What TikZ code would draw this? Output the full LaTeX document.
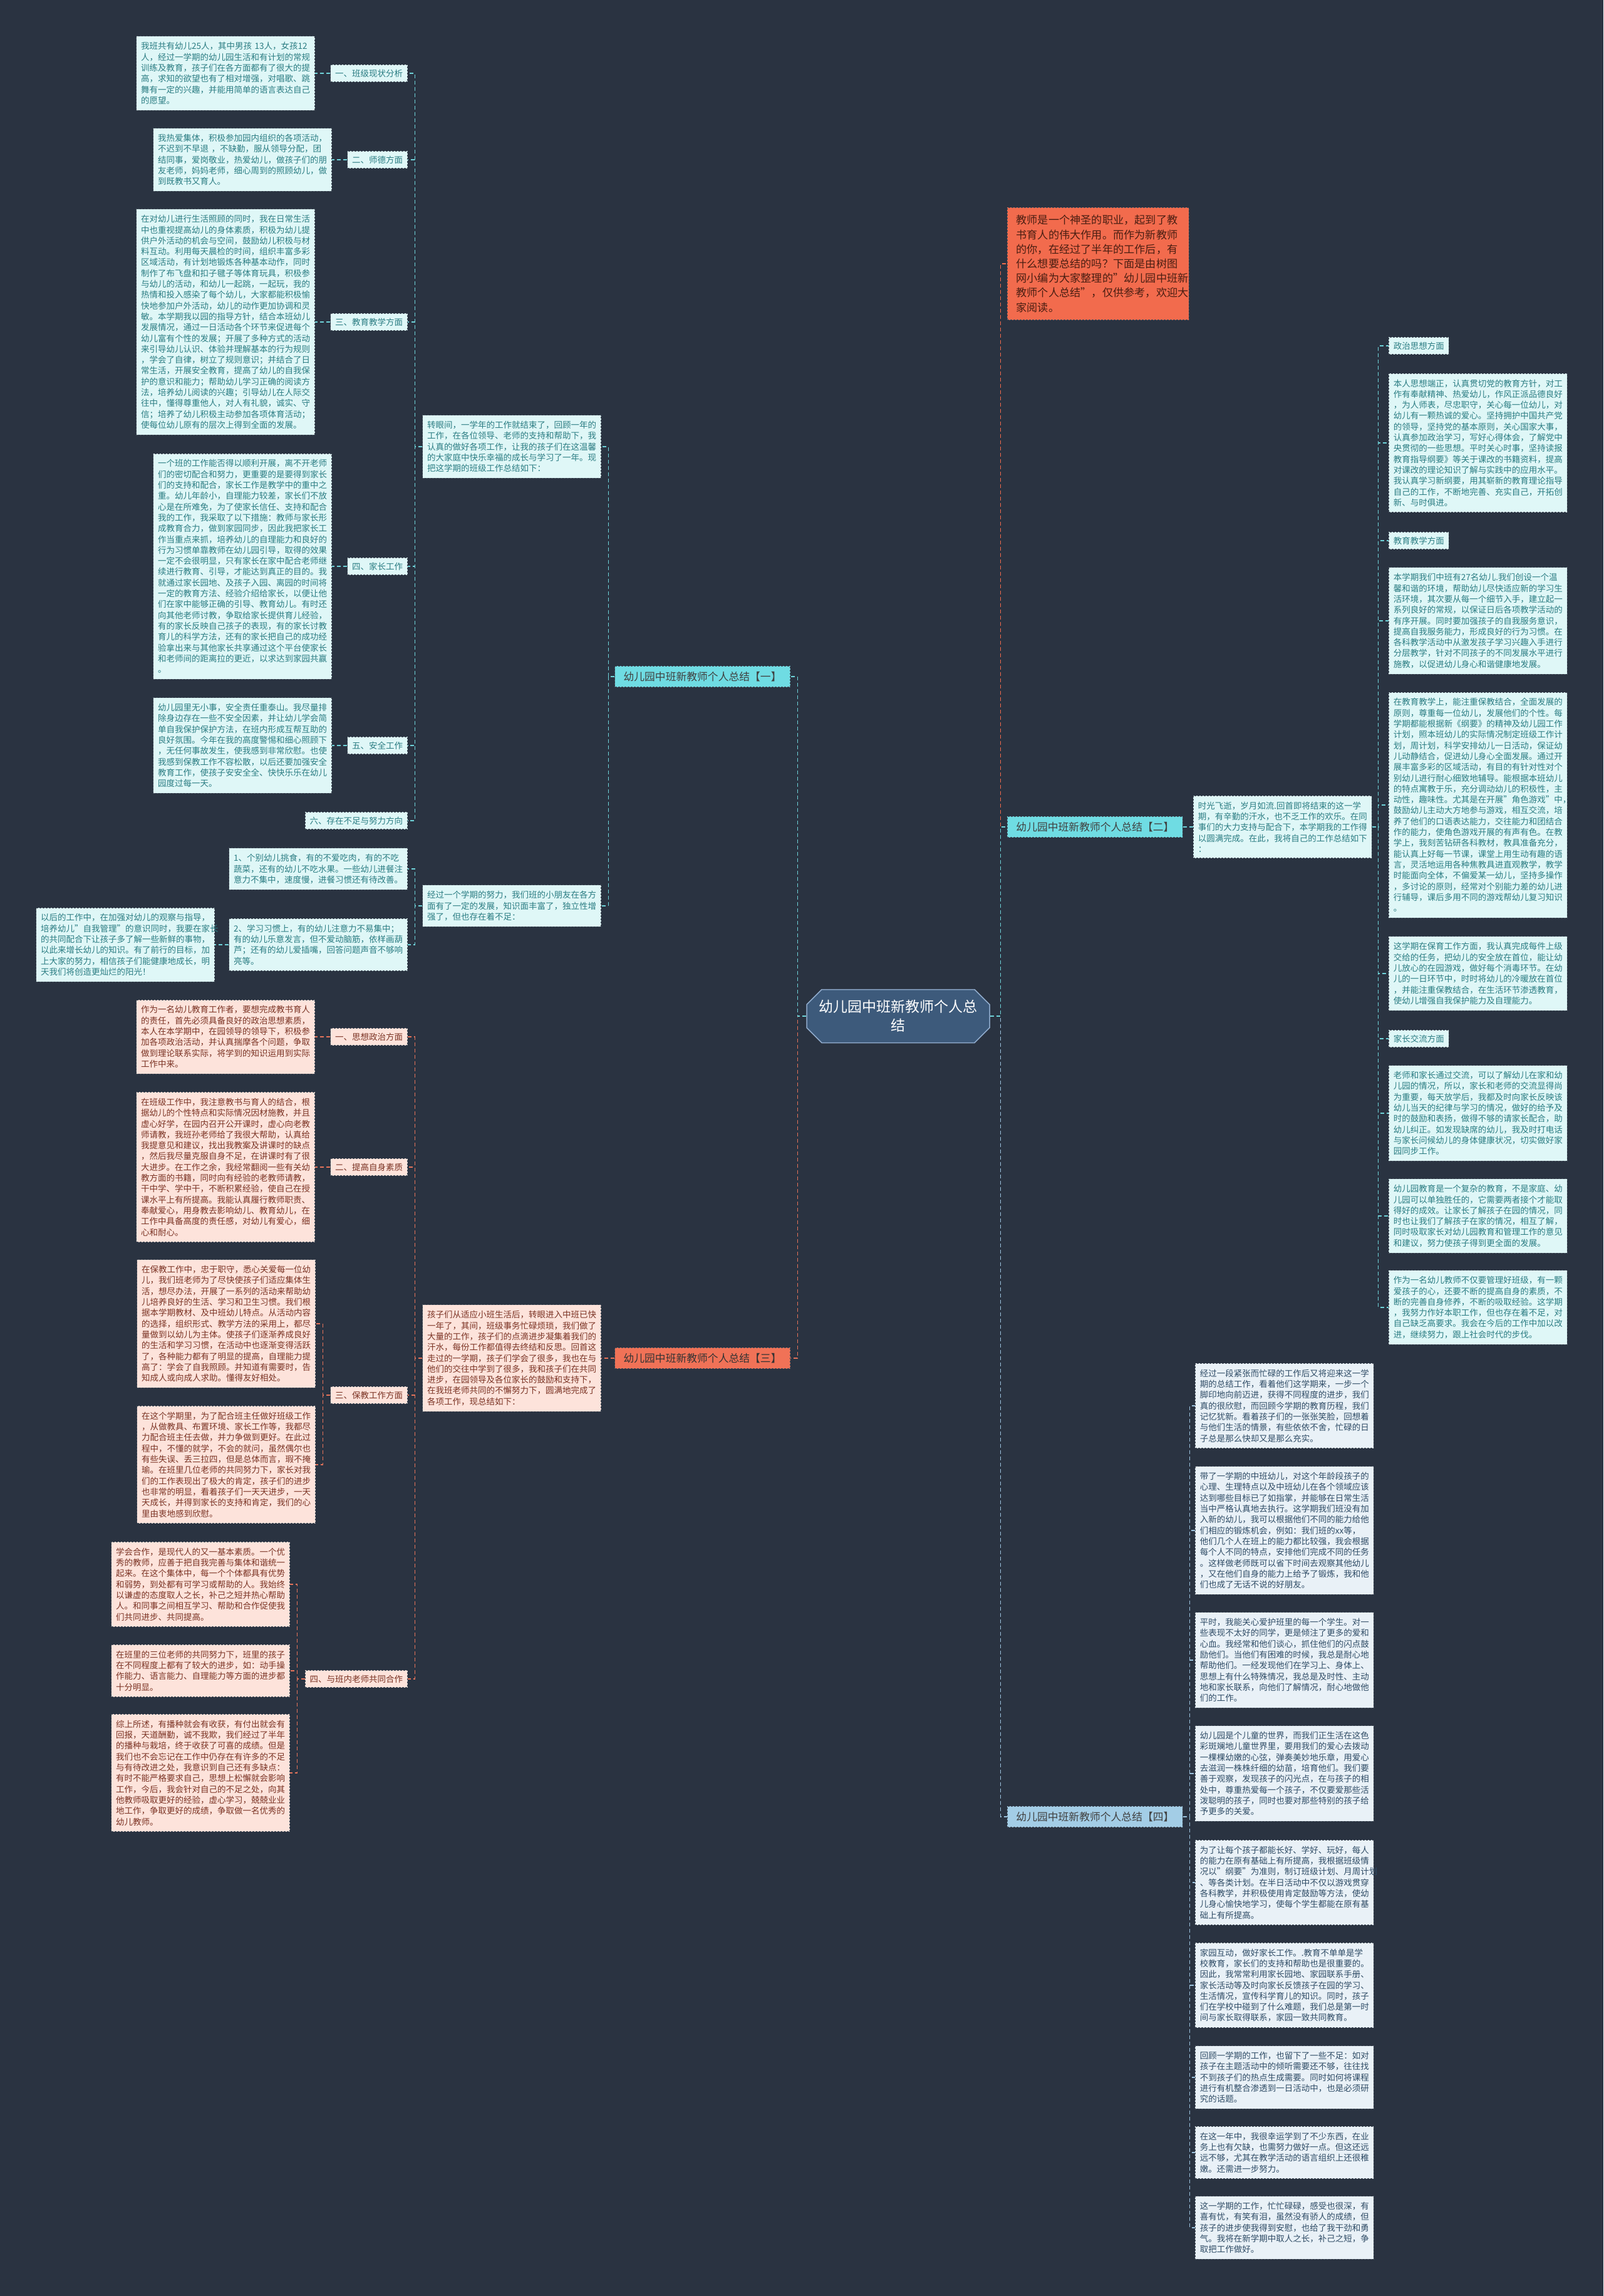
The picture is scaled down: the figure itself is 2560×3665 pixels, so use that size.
\documentclass[tikz,border=0pt]{standalone}
\usepackage{fontspec}
\setmainfont{Noto Sans CJK SC}
\usetikzlibrary{shapes.misc}
\definecolor{bg}{HTML}{2A3341}
\definecolor{cyanlab}{HTML}{6FDCE3}
\definecolor{cyanleaf}{HTML}{DFF7F7}
\definecolor{tealtext}{HTML}{2B7D83}
\definecolor{cyanline}{HTML}{6FD3D9}
\definecolor{salmonlab}{HTML}{F07257}
\definecolor{pinkleaf}{HTML}{FDE3DB}
\definecolor{pinktext}{HTML}{7B3324}
\definecolor{salmonline}{HTML}{E5735A}
\definecolor{bluelab}{HTML}{A3CDE6}
\definecolor{blueleaf}{HTML}{E9F1F7}
\definecolor{bluetext}{HTML}{2F4C66}
\definecolor{blueline}{HTML}{9CC3DE}
\definecolor{redfill}{HTML}{F26B4D}
\definecolor{redtext}{HTML}{4A1E12}
\definecolor{ctrfill}{HTML}{3D5A7B}
\definecolor{ctrdraw}{HTML}{8FAACB}
\definecolor{bordc}{HTML}{46515D}
\begin{document}
\begin{tikzpicture}[x=1pt,y=-1pt,
  every node/.style={font=\fontsize{13.5}{17.3}\selectfont},
  box/.style={rectangle, inner xsep=7.5pt, inner ysep=9.5pt, align=left, draw=bordc, line width=0.9pt, dash pattern=on 3pt off 2pt},
  lab/.style={box, inner ysep=7.5pt},
  cleaf/.style={box, fill=cyanleaf, text=tealtext, text width=270pt},
  clab/.style={lab, fill=cyanleaf, text=tealtext},
  pleaf/.style={box, fill=pinkleaf, text=pinktext, text width=270pt},
  plab/.style={lab, fill=pinkleaf, text=pinktext},
  bleaf/.style={box, fill=blueleaf, text=bluetext, text width=270pt},
  blab/.style={lab, fill=blueleaf, text=bluetext},
  branch/.style={box, inner xsep=14pt, inner ysep=9pt, font=\fontsize{16.8}{20}\selectfont},
  cline/.style={draw=cyanline, line width=1.1pt, dash pattern=on 6pt off 4pt},
  pline/.style={draw=salmonline, line width=1.1pt, dash pattern=on 6pt off 4pt},
  bline/.style={draw=blueline, line width=1.1pt, dash pattern=on 6pt off 4pt},
  rline/.style={draw=redfill, line width=1.1pt, dash pattern=on 6pt off 4pt},
  ctrbox/.style={chamfered rectangle, chamfered rectangle xsep=12pt, chamfered rectangle ysep=12pt, fill=ctrfill, draw=ctrdraw, line width=1.5pt, text=white, align=center, minimum width=292pt, minimum height=85pt, inner sep=3pt, font=\fontsize{23}{30}\selectfont}
]
\fill[bg] (0,0) rectangle (2560,3665);
\useasboundingbox (0,0) rectangle (2560,3665);

% ---------------- centre ----------------
\node[ctrbox] (ctr) at (1434,1622) {幼儿园中班新教师个人总\\结};

% ---------------- right: intro ----------------
\node[box, anchor=west, fill=redfill, text=redtext, text width=262pt, inner xsep=14pt, inner ysep=12pt, font=\fontsize{17.2}{23.2}\selectfont] (intro) at (1608,421) {教师是一个神圣的职业，起到了教\\书育人的伟大作用。而作为新教师\\的你，在经过了半年的工作后，有\\什么想要总结的吗？下面是由树图\\网小编为大家整理的"幼儿园中班新\\教师个人总结"，仅供参考，欢迎大\\家阅读。};

% ---------------- right: branch two ----------------
\node[branch, anchor=west, fill=cyanlab, text=black!75] (b2) at (1608,1320) {幼儿园中班新教师个人总结【二】};
\node[cleaf, anchor=west] (s2r) at (1905,1320) {时光飞逝，岁月如流.回首即将结束的这一学\\期，有辛勤的汗水，也不乏工作的欢乐。在同\\事们的大力支持与配合下，本学期我的工作得\\以圆满完成。在此，我将自己的工作总结如下\\：};

\node[clab, anchor=west] (r1) at (2217,552) {政治思想方面};
\node[cleaf, anchor=west] (r2) at (2217,707) {本人思想端正，认真贯切党的教育方针，对工\\作有奉献精神、热爱幼儿，作风正派品德良好\\，为人师表，尽忠职守，关心每一位幼儿，对\\幼儿有一颗热诚的爱心。坚持拥护中国共产党\\的领导，坚持党的基本原则，关心国家大事，\\认真参加政治学习，写好心得体会，了解党中\\央贯彻的一些思想。平时关心时事，坚持读报\\教育指导纲要》等关于课改的书籍资料，提高\\对课改的理论知识了解与实践中的应用水平。\\我认真学习新纲要，用其崭新的教育理论指导\\自己的工作，不断地完善、充实自己，开拓创\\新、与时俱进。};
\node[clab, anchor=west] (r3) at (2217,863) {教育教学方面};
\node[cleaf, anchor=west] (r4) at (2217,991) {本学期我们中班有27名幼儿.我们创设一个温\\馨和谐的环境，帮助幼儿尽快适应新的学习生\\活环境，其次要从每一个细节入手，建立起一\\系列良好的常规，以保证日后各项教学活动的\\有序开展。同时要加强孩子的自我服务意识，\\提高自我服务能力，形成良好的行为习惯。在\\各科教学活动中从激发孩子学习兴趣入手进行\\分层教学，针对不同孩子的不同发展水平进行\\施教，以促进幼儿身心和谐健康地发展。};
\node[cleaf, anchor=west] (r5) at (2217,1285) {在教育教学上，能注重保教结合，全面发展的\\原则，尊重每一位幼儿，发展他们的个性。每\\学期都能根据新《纲要》的精神及幼儿园工作\\计划，照本班幼儿的实际情况制定班级工作计\\划，周计划，科学安排幼儿一日活动，保证幼\\儿动静结合，促进幼儿身心全面发展。通过开\\展丰富多彩的区域活动，有目的有针对性对个\\别幼儿进行耐心细致地辅导。能根据本班幼儿\\的特点寓教于乐，充分调动幼儿的积极性，主\\动性，趣味性。尤其是在开展"角色游戏"中，\\鼓励幼儿主动大方地参与游戏，相互交流，培\\养了他们的口语表达能力，交往能力和团结合\\作的能力，使角色游戏开展的有声有色。在教\\学上，我刻苦钻研各科教材，教具准备充分，\\能认真上好每一节课，课堂上用生动有趣的语\\言，灵活地运用各种焦教具进直观教学，教学\\时能面向全体，不偏爱某一幼儿，坚持多操作\\，多讨论的原则，经常对个别能力差的幼儿进\\行辅导，课后多用不同的游戏帮幼儿复习知识\\。};
\node[cleaf, anchor=west] (r6) at (2217,1554) {这学期在保育工作方面，我认真完成每件上级\\交给的任务，把幼儿的安全放在首位，能让幼\\儿放心的在园游戏，做好每个消毒环节。在幼\\儿的一日环节中，时时将幼儿的冷暖放在首位\\，并能注重保教结合，在生活环节渗透教育，\\使幼儿增强自我保护能力及自理能力。};
\node[clab, anchor=west] (r7) at (2217,1658) {家长交流方面};
\node[cleaf, anchor=west] (r8) at (2217,1777) {老师和家长通过交流，可以了解幼儿在家和幼\\儿园的情况，所以，家长和老师的交流显得尚\\为重要，每天放学后，我都及时向家长反映该\\幼儿当天的纪律与学习的情况，做好的给予及\\时的鼓励和表扬，做得不够的请家长配合，助\\幼儿纠正。如发现缺席的幼儿，我及时打电话\\与家长问候幼儿的身体健康状况，切实做好家\\园同步工作。};
\node[cleaf, anchor=west] (r9) at (2217,1941) {幼儿园教育是一个复杂的教育，不是家庭、幼\\儿园可以单独胜任的，它需要两者接个才能取\\得好的成效。让家长了解孩子在园的情况，同\\时也让我们了解孩子在家的情况，相互了解，\\同时吸取家长对幼儿园教育和管理工作的意见\\和建议，努力使孩子得到更全面的发展。};
\node[cleaf, anchor=west] (r10) at (2217,2087) {作为一名幼儿教师不仅要管理好班级，有一颗\\爱孩子的心，还要不断的提高自身的素质，不\\断的完善自身修养，不断的吸取经验。这学期\\，我努力作好本职工作，但也存在着不足，对\\自己缺乏高要求。我会在今后的工作中加以改\\进，继续努力，跟上社会时代的步伐。};

% ---------------- right: branch four ----------------
\node[branch, anchor=west, fill=bluelab, text=black!75] (b4) at (1608,2900) {幼儿园中班新教师个人总结【四】};
\node[bleaf, anchor=west] (q1) at (1908,2244) {经过一段紧张而忙碌的工作后又将迎来这一学\\期的总结工作，看着他们这学期来，一步一个\\脚印地向前迈进，获得不同程度的进步，我们\\真的很欣慰，而回顾今学期的教育历程，我们\\记忆犹新。看着孩子们的一张张笑脸，回想着\\与他们生活的情景，有些依依不舍，忙碌的日\\子总是那么快却又是那么充实。};
\node[bleaf, anchor=west] (q2) at (1908,2443) {带了一学期的中班幼儿，对这个年龄段孩子的\\心理、生理特点以及中班幼儿在各个领域应该\\达到哪些目标已了如指掌，并能够在日常生活\\当中严格认真地去执行。这学期我们班没有加\\入新的幼儿，我可以根据他们不同的能力给他\\们相应的锻炼机会，例如：我们班的xx等，\\他们几个人在班上的能力都比较强，我会根据\\每个人不同的特点，安排他们完成不同的任务\\。这样做老师既可以省下时间去观察其他幼儿\\，又在他们自身的能力上给予了锻炼，我和他\\们也成了无话不说的好朋友。};
\node[bleaf, anchor=west] (q3) at (1908,2650) {平时，我能关心爱护班里的每一个学生。对一\\些表现不太好的同学，更是倾注了更多的爱和\\心血。我经常和他们谈心，抓住他们的闪点鼓\\励他们。当他们有困难的时候，我总是耐心地\\帮助他们。一经发现他们在学习上、身体上、\\思想上有什么特殊情况，我总是及时性、主动\\地和家长联系，向他们了解情况，耐心地做他\\们的工作。};
\node[bleaf, anchor=west] (q4) at (1908,2831) {幼儿园是个儿童的世界，而我们正生活在这色\\彩斑斓地儿童世界里，要用我们的爱心去拨动\\一棵棵幼嫩的心弦，弹奏美妙地乐章，用爱心\\去滋润一株株纤细的幼苗，培育他们。我们要\\善于观察，发现孩子的闪光点，在与孩子的相\\处中，尊重热爱每一个孩子，不仅要爱那些活\\泼聪明的孩子，同时也要对那些特别的孩子给\\予更多的关爱。};
\node[bleaf, anchor=west] (q5) at (1908,3005) {为了让每个孩子都能长好、学好、玩好，每人\\的能力在原有基础上有所提高，我根据班级情\\况以"纲要"为准则，制订班级计划、月周计划\\、等各类计划。在半日活动中不仅以游戏贯穿\\各科教学，并积极使用肯定鼓励等方法，使幼\\儿身心愉快地学习，使每个学生都能在原有基\\础上有所提高。};
\node[bleaf, anchor=west] (q6) at (1908,3169) {家园互动，做好家长工作。.教育不单单是学\\校教育，家长们的支持和帮助也是很重要的。\\因此，我常常利用家长园地、家园联系手册、\\家长活动等及时向家长反馈孩子在园的学习、\\生活情况，宣传科学育儿的知识。同时，孩子\\们在学校中碰到了什么难题，我们总是第一时\\间与家长取得联系，家园一致共同教育。};
\node[bleaf, anchor=west] (q7) at (1908,3316) {回顾一学期的工作，也留下了一些不足：如对\\孩子在主题活动中的倾听需要还不够，往往找\\不到孩子们的热点生成需要。同时如何将课程\\进行有机整合渗透到一日活动中，也是必须研\\究的话题。};
\node[bleaf, anchor=west] (q8) at (1908,3436) {在这一年中，我很幸运学到了不少东西，在业\\务上也有欠缺，也需努力做好一点。但这还远\\远不够，尤其在教学活动的语言组织上还很稚\\嫩。还需进一步努力。};
\node[bleaf, anchor=west] (q9) at (1908,3556) {这一学期的工作，忙忙碌碌，感受也很深，有\\喜有忧，有笑有泪，虽然没有骄人的成绩，但\\孩子的进步使我得到安慰，也给了我干劲和勇\\气。我将在新学期中取人之长，补己之短，争\\取把工作做好。};

% ---------------- left: branch one ----------------
\node[branch, anchor=east, fill=cyanlab, text=black!75] (b1) at (1262,1080) {幼儿园中班新教师个人总结【一】};
\node[cleaf, anchor=east] (s1) at (960,713) {转眼间，一学年的工作就结束了，回顾一年的\\工作，在各位领导、老师的支持和帮助下，我\\认真的做好各项工作，让我的孩子们在这温馨\\的大家庭中快乐幸福的成长与学习了一年。现\\把这学期的班级工作总结如下：};
\node[cleaf, anchor=east] (s2) at (960,1446) {经过一个学期的努力，我们班的小朋友在各方\\面有了一定的发展，知识面丰富了，独立性增\\强了，但也存在着不足：};

\node[clab, anchor=east] (l1) at (651,117) {一、班级现状分析};
\node[clab, anchor=east] (l2) at (651,255) {二、师德方面};
\node[clab, anchor=east] (l3) at (651,514) {三、教育教学方面};
\node[clab, anchor=east] (l4) at (651,904) {四、家长工作};
\node[clab, anchor=east] (l5) at (651,1190) {五、安全工作};
\node[clab, anchor=east] (l6) at (651,1310) {六、存在不足与努力方向};

\node[cleaf, anchor=east] (t1) at ([xshift=-24pt]l1.west) {我班共有幼儿25人，其中男孩~13人，女孩12\\人，经过一学期的幼儿园生活和有计划的常规\\训练及教育，孩子们在各方面都有了很大的提\\高，求知的欲望也有了相对增强，对唱歌、跳\\舞有一定的兴趣，并能用简单的语言表达自己\\的愿望。};
\node[cleaf, anchor=east] (t2) at ([xshift=-24pt]l2.west) {我热爱集体，积极参加园内组织的各项活动，\\不迟到不早退~，不缺勤，服从领导分配，团\\结同事，爱岗敬业，热爱幼儿，做孩子们的朋\\友老师，妈妈老师，细心周到的照顾幼儿，做\\到既教书又育人。};
\node[cleaf, anchor=east] (t3) at ([xshift=-24pt]l3.west) {在对幼儿进行生活照顾的同时，我在日常生活\\中也重视提高幼儿的身体素质，积极为幼儿提\\供户外活动的机会与空间，鼓励幼儿积极与材\\料互动。利用每天晨检的时间，组织丰富多彩\\区域活动，有计划地锻炼各种基本动作，同时\\制作了布飞盘和扣子毽子等体育玩具，积极参\\与幼儿的活动，和幼儿一起跳，一起玩，我的\\热情和投入感染了每个幼儿，大家都能积极愉\\快地参加户外活动，幼儿的动作更加协调和灵\\敏。本学期我以园的指导方针，结合本班幼儿\\发展情况，通过一日活动各个环节来促进每个\\幼儿富有个性的发展；开展了多种方式的活动\\来引导幼儿认识、体验并理解基本的行为规则\\，学会了自律，树立了规则意识；并结合了日\\常生活，开展安全教育，提高了幼儿的自我保\\护的意识和能力；帮助幼儿学习正确的阅读方\\法，培养幼儿阅读的兴趣；引导幼儿在人际交\\往中，懂得尊重他人，对人有礼貌，诚实、守\\信；培养了幼儿积极主动参加各项体育活动；\\使每位幼儿原有的层次上得到全面的发展。};
\node[cleaf, anchor=east] (t4) at ([xshift=-24pt]l4.west) {一个班的工作能否得以顺利开展，离不开老师\\们的密切配合和努力，更重要的是要得到家长\\们的支持和配合，家长工作是教学中的重中之\\重。幼儿年龄小，自理能力较差，家长们不放\\心是在所难免，为了使家长信任、支持和配合\\我的工作，我采取了以下措施：教师与家长形\\成教育合力，做到家园同步，因此我把家长工\\作当重点来抓，培养幼儿的自理能力和良好的\\行为习惯单靠教师在幼儿园引导，取得的效果\\一定不会很明显，只有家长在家中配合老师继\\续进行教育、引导，才能达到真正的目的。我\\就通过家长园地、及孩子入园、离园的时间将\\一定的教育方法、经验介绍给家长，以便让他\\们在家中能够正确的引导、教育幼儿。有时还\\向其他老师讨教，争取给家长提供育儿经验，\\有的家长反映自己孩子的表现，有的家长讨教\\育儿的科学方法，还有的家长把自己的成功经\\验拿出来与其他家长共享通过这个平台使家长\\和老师间的距离拉的更近，以求达到家园共赢\\。};
\node[cleaf, anchor=east] (t5) at ([xshift=-24pt]l5.west) {幼儿园里无小事，安全责任重泰山。我尽量排\\除身边存在一些不安全因素，并让幼儿学会简\\单自我保护保护方法，在班内形成互帮互助的\\良好氛围。今年在我的高度警惕和细心照顾下\\，无任何事故发生，使我感到非常欣慰。也使\\我感到保教工作不容松散，以后还要加强安全\\教育工作，使孩子安安全全、快快乐乐在幼儿\\园度过每一天。};

\node[cleaf, anchor=east] (n1) at (651,1387) {1、个别幼儿挑食，有的不爱吃肉，有的不吃\\蔬菜，还有的幼儿不吃水果。一些幼儿进餐注\\意力不集中，速度慢，进餐习惯还有待改善。};
\node[cleaf, anchor=east] (n2) at (651,1508) {2、学习习惯上，有的幼儿注意力不易集中；\\有的幼儿乐意发言，但不爱动脑筋，依样画葫\\芦；还有的幼儿爱插嘴，回答问题声音不够响\\亮等。};
\node[cleaf, anchor=east] (n3) at (343,1508) {以后的工作中，在加强对幼儿的观察与指导，\\培养幼儿"自我管理"的意识同时，我要在家长\\的共同配合下让孩子多了解一些新鲜的事物，\\以此来增长幼儿的知识。有了前行的目标，加\\上大家的努力，相信孩子们能健康地成长，明\\天我们将创造更灿烂的阳光！};

% ---------------- left: branch three ----------------
\node[branch, anchor=east, fill=salmonlab, text=black!80] (b3) at (1262,2168) {幼儿园中班新教师个人总结【三】};
\node[pleaf, anchor=east] (s3) at (960,2168) {孩子们从适应小班生活后，转眼进入中班已快\\一年了，其间，班级事务忙碌烦琐，我们做了\\大量的工作，孩子们的点滴进步凝集着我们的\\汗水，每份工作都值得去终结和反思。回首这\\走过的一学期，孩子们学会了很多，我也在与\\他们的交往中学到了很多，我和孩子们在共同\\进步，在园领导及各位家长的鼓励和支持下，\\在我班老师共同的不懈努力下，圆满地完成了\\各项工作，现总结如下：};

\node[plab, anchor=east] (m1) at (651,1655) {一、思想政治方面};
\node[plab, anchor=east] (m2) at (651,1863) {二、提高自身素质};
\node[plab, anchor=east] (m3) at (651,2227) {三、保教工作方面};
\node[plab, anchor=east] (m4) at (651,2680) {四、与班内老师共同合作};

\node[pleaf, anchor=east] (u1) at ([xshift=-24pt]m1.west) {作为一名幼儿教育工作者，要想完成教书育人\\的责任，首先必须具备良好的政治思想素质，\\本人在本学期中，在园领导的领导下，积极参\\加各项政治活动，并认真揣摩各个问题，争取\\做到理论联系实际，将学到的知识运用到实际\\工作中来。};
\node[pleaf, anchor=east] (u2) at ([xshift=-24pt]m2.west) {在班级工作中，我注意教书与育人的结合，根\\据幼儿的个性特点和实际情况因材施教，并且\\虚心好学，在园内召开公开课时，虚心向老教\\师请教，我班孙老师给了我很大帮助，认真给\\我提意见和建议，找出我教案及讲课时的缺点\\，然后我尽量克服自身不足，在讲课时有了很\\大进步。在工作之余，我经常翻阅一些有关幼\\教方面的书籍，同时向有经验的老教师请教，\\干中学、学中干，不断积累经验，使自己在授\\课水平上有所提高。我能认真履行教师职责、\\奉献爱心，用身教去影响幼儿、教育幼儿，在\\工作中具备高度的责任感，对幼儿有爱心，细\\心和耐心。};
\node[pleaf, anchor=east] (u3) at (504,2113) {在保教工作中，忠于职守，悉心关爱每一位幼\\儿，我们班老师为了尽快使孩子们适应集体生\\活，想尽办法，开展了一系列的活动来帮助幼\\儿培养良好的生活、学习和卫生习惯。我们根\\据本学期教材、及中班幼儿特点。从活动内容\\的选择，组织形式、教学方法的采用上，都尽\\量做到以幼儿为主体。使孩子们逐渐养成良好\\的生活和学习习惯，在活动中也逐渐变得活跃\\了，各种能力都有了明显的提高，自理能力提\\高了：学会了自我照顾。并知道有需要时，告\\知成人或向成人求助。懂得友好相处。};
\node[pleaf, anchor=east] (u4) at (504,2338) {在这个学期里，为了配合班主任做好班级工作\\，从做教具、布置环境、家长工作等，我都尽\\力配合班主任去做，并力争做到更好。在此过\\程中，不懂的就学，不会的就问，虽然偶尔也\\有些失误、丢三拉四，但是总体而言，瑕不掩\\瑜。在班里几位老师的共同努力下，家长对我\\们的工作表现出了极大的肯定，孩子们的进步\\也非常的明显，看着孩子们一天天进步，一天\\天成长，并得到家长的支持和肯定，我们的心\\里由衷地感到欣慰。};
\node[pleaf, anchor=east] (u5) at (463,2529) {学会合作，是现代人的又一基本素质。一个优\\秀的教师，应善于把自我完善与集体和谐统一\\起来。在这个集体中，每一个个体都具有优势\\和弱势，到处都有可学习或帮助的人。我始终\\以谦虚的态度取人之长，补己之短并热心帮助\\人。和同事之间相互学习、帮助和合作促使我\\们共同进步、共同提高。};
\node[pleaf, anchor=east] (u6) at (463,2667) {在班里的三位老师的共同努力下，班里的孩子\\在不同程度上都有了较大的进步，如：动手操\\作能力、语言能力、自理能力等方面的进步都\\十分明显。};
\node[pleaf, anchor=east] (u7) at (463,2830) {综上所述，有播种就会有收获，有付出就会有\\回报，天道酬勤，诚不我欺，我们经过了半年\\的播种与栽培，终于收获了可喜的成绩。但是\\我们也不会忘记在工作中仍存在有许多的不足\\与有待改进之处，我意识到自己还有多缺点：\\有时不能严格要求自己，思想上松懈就会影响\\工作，今后，我会针对自己的不足之处，向其\\他教师吸取更好的经验，虚心学习，兢兢业业\\地工作，争取更好的成绩，争取做一名优秀的\\幼儿教师。};

% ---------------- connectors ----------------
\draw[rline] (ctr.east) -- ++(17,0) |- (intro.west);
\draw[bline] (ctr.east) -- ++(17,0) |- (b4.west);
\draw[cline] (ctr.east) -- ++(17,0) |- (b2.west);
\draw[pline] (ctr.west) -- ++(-14,0) |- (b3.east);
\draw[cline] (ctr.west) -- ++(-14,0) |- (b1.east);

\draw[cline] (b2.east) -- (s2r.west);
\foreach \n in {r1,r2,r3,r4,r5,r6,r7,r8,r9,r10}
  \draw[cline] (s2r.east) -- ++(10,0) |- (\n.west);

\foreach \n in {q1,q2,q3,q4,q5,q6,q7,q8,q9}
  \draw[bline] (b4.east) -- ++(11,0) |- (\n.west);

\draw[cline] (b1.west) -- ++(-10,0) |- (s1.east);
\draw[cline] (b1.west) -- ++(-10,0) |- (s2.east);
\foreach \n in {l1,l2,l3,l4,l5,l6}
  \draw[cline] (s1.west) -- ++(-12,0) |- (\n.east);
\draw[cline] (l1.west) -- (t1.east);
\draw[cline] (l2.west) -- (t2.east);
\draw[cline] (l3.west) -- (t3.east);
\draw[cline] (l4.west) -- (t4.east);
\draw[cline] (l5.west) -- (t5.east);
\draw[cline] (s2.west) -- ++(-12,0) |- (n1.east);
\draw[cline] (s2.west) -- ++(-12,0) |- (n2.east);
\draw[cline] (n2.west) -- (n3.east);

\draw[pline] (b3.west) -- (s3.east);
\foreach \n in {m1,m2,m3,m4}
  \draw[pline] (s3.west) -- ++(-12,0) |- (\n.east);
\draw[pline] (m1.west) -- (u1.east);
\draw[pline] (m2.west) -- (u2.east);
\draw[pline] (m3.west) -- ++(-12,0) |- (u3.east);
\draw[pline] (m3.west) -- ++(-12,0) |- (u4.east);
\foreach \n in {u5,u6,u7}
  \draw[pline] (m4.west) -- ++(-12,0) |- (\n.east);
\end{tikzpicture}
\end{document}
